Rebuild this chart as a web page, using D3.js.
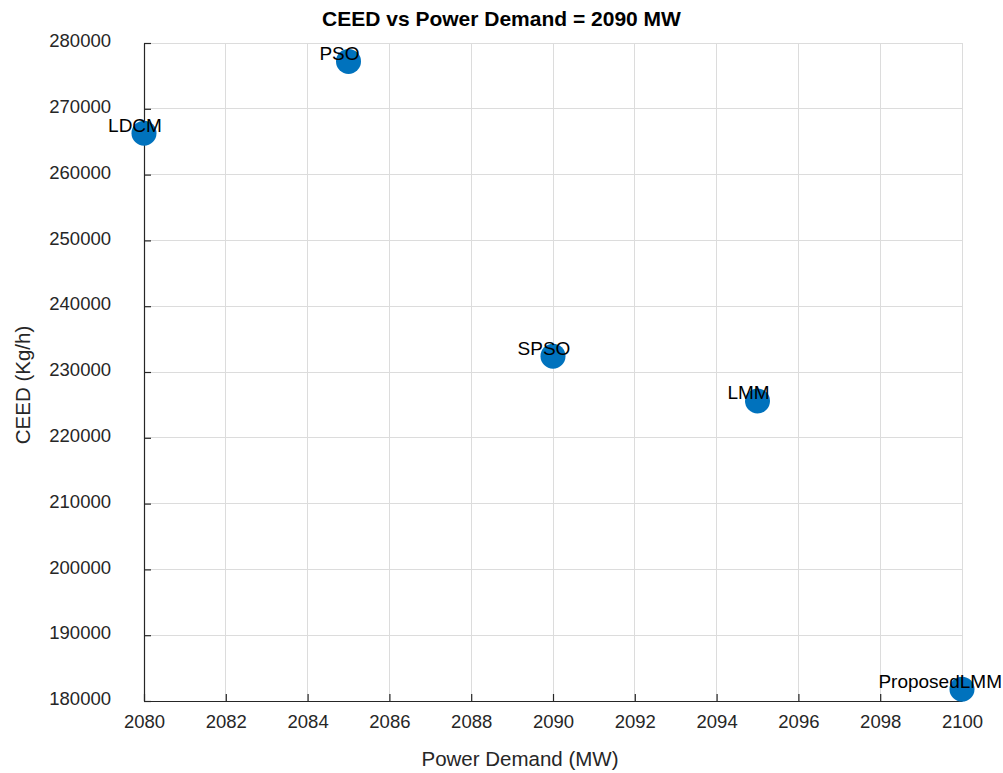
<!DOCTYPE html>
<html>
<head>
<meta charset="utf-8">
<script src="https://cdn.jsdelivr.net/npm/d3@7"></script>
<style>
  body { margin: 0; background: #fff; }
  svg { display: block; font-family: Arial, "Liberation Sans", sans-serif; }
</style>
</head>
<body>
<svg id="chart" width="1003" height="773"></svg>
<script>
// Methods compared at a demand of 2090 MW
const methods = ["LDCM", "PSO", "SPSO", "LMM", "ProposedLMM"];
const powerDemand = [2080, 2085, 2090, 2095, 2100];
const ceed = [266300, 277200, 232400, 225600, 181800];

const xTicks = [2080, 2082, 2084, 2086, 2088, 2090, 2092, 2094, 2096, 2098, 2100];
const yTicks = [180000, 190000, 200000, 210000, 220000, 230000, 240000, 250000, 260000, 270000, 280000];

const W = 1003, H = 773;
const margin = { left: 144, right: 41, top: 43, bottom: 72 };

const svg = d3.select("#chart");

const x = d3.scaleLinear().domain([2080, 2100]).range([margin.left, W - margin.right]);
const y = d3.scaleLinear().domain([180000, 280000]).range([H - margin.bottom, margin.top]);

const axisColor = "#262626";
const gridColor = "#dcdcdc";

// Grid
const grid = svg.append("g");
grid.selectAll("line.gx").data(xTicks).join("line")
  .attr("x1", d => x(d)).attr("x2", d => x(d))
  .attr("y1", y.range()[0]).attr("y2", y.range()[1])
  .attr("stroke", gridColor).attr("stroke-width", 1).attr("shape-rendering", "crispEdges");
grid.selectAll("line.gy").data(yTicks).join("line")
  .attr("y1", d => y(d)).attr("y2", d => y(d))
  .attr("x1", x.range()[0]).attr("x2", x.range()[1])
  .attr("stroke", gridColor).attr("stroke-width", 1).attr("shape-rendering", "crispEdges");

// Axes with inward ticks
const xAxis = svg.append("g")
  .attr("transform", `translate(0,${y.range()[0]})`)
  .call(d3.axisBottom(x).tickValues(xTicks).tickFormat(d3.format("d")).tickSizeInner(-7).tickSizeOuter(0).tickPadding(14));
const yAxis = svg.append("g")
  .attr("transform", `translate(${x.range()[0]},0)`)
  .call(d3.axisLeft(y).tickValues(yTicks).tickFormat(d3.format("d")).tickSizeInner(-7).tickSizeOuter(0).tickPadding(33));

[xAxis, yAxis].forEach(a => {
  a.select(".domain").attr("stroke", axisColor).attr("stroke-width", 1.2);
  a.selectAll(".tick line").attr("stroke", axisColor).attr("stroke-width", 1.2);
  a.selectAll(".tick text").attr("fill", axisColor).attr("font-size", 18.5)
    .attr("font-family", "Arial, 'Liberation Sans', sans-serif");
});
yAxis.selectAll(".tick text").attr("dy", "0.2em");

// Points
svg.append("g").selectAll("circle").data(methods).join("circle")
  .attr("cx", (d, i) => x(powerDemand[i]))
  .attr("cy", (d, i) => y(ceed[i]))
  .attr("r", 12.5)
  .attr("fill", "#0072BD");

// Point labels, kept inside the figure
const labels = svg.append("g").selectAll("text").data(methods).join("text")
  .attr("x", (d, i) => x(powerDemand[i] - 0.22))
  .attr("y", (d, i) => y(ceed[i] + 1000))
  .attr("text-anchor", "middle")
  .attr("dominant-baseline", "middle")
  .attr("font-size", 19)
  .attr("fill", "#000")
  .text(d => d);
labels.each(function () {
  const b = this.getBBox();
  const over = b.x + b.width - (W - 1);
  if (over > 0) d3.select(this).attr("x", +d3.select(this).attr("x") - over);
});

// Title and axis labels
svg.append("text")
  .attr("x", W / 2).attr("y", 26)
  .attr("text-anchor", "middle").attr("font-size", 21).attr("font-weight", "bold")
  .attr("fill", "#000")
  .text("CEED vs Power Demand = 2090 MW");

svg.append("text")
  .attr("x", 520).attr("y", 766)
  .attr("text-anchor", "middle").attr("font-size", 20.5).attr("fill", axisColor)
  .text("Power Demand (MW)");

svg.append("text")
  .attr("transform", `translate(30,385) rotate(-90)`)
  .attr("text-anchor", "middle").attr("font-size", 20.5).attr("fill", axisColor)
  .text("CEED (Kg/h)");
</script>
</body>
</html>
